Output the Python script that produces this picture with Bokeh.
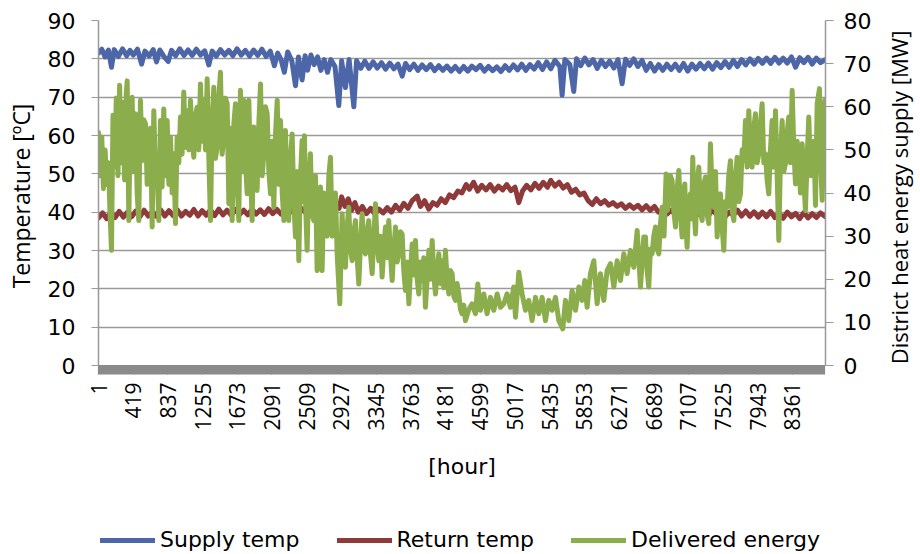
import math
from bokeh.plotting import figure
from bokeh.layouts import row, column
from bokeh.models import (Range1d, LinearAxis, FixedTicker, SingleIntervalTicker,
                          Legend, LegendItem, Grid, Label)
from bokeh.embed import file_html
from bokeh.resources import INLINE

# ---------------- data ----------------
tick_hours = [1, 419, 837, 1255, 1673, 2091, 2509, 2927, 3345, 3763, 4181,
              4599, 5017, 5435, 5853, 6271, 6689, 7107, 7525, 7943, 8361]

supply_hours = [1, 40, 80, 120, 157, 190, 240, 290, 340, 380, 420, 470, 520, 560, 610, 660,
                700, 740, 790, 840, 880, 930, 980, 1030, 1080, 1130, 1180, 1230, 1280, 1330,
                1370, 1420, 1470, 1520, 1570, 1620, 1670, 1720, 1770, 1820, 1870, 1920, 1970,
                2020, 2070, 2120, 2160, 2200, 2240, 2280, 2330, 2374, 2410, 2454, 2490, 2520,
                2560, 2600, 2640, 2680, 2720, 2760, 2800, 2850, 2896, 2930, 2976, 3020, 3077,
                3110, 3160, 3210, 3260, 3310, 3360, 3410, 3460, 3510, 3560, 3610, 3660, 3700,
                3750, 3800, 3850, 3900, 3950, 4000, 4050, 4100, 4150, 4200, 4250, 4300, 4350,
                4400, 4450, 4500, 4550, 4600, 4650, 4700, 4750, 4800, 4850, 4900, 4950, 5000,
                5050, 5100, 5150, 5200, 5250, 5300, 5350, 5400, 5450, 5500, 5560, 5587, 5620,
                5680, 5727, 5760, 5810, 5860, 5910, 5960, 6010, 6060, 6110, 6160, 6210, 6260,
                6310, 6350, 6400, 6450, 6500, 6550, 6600, 6650, 6700, 6750, 6800, 6850, 6900,
                6950, 7000, 7050, 7100, 7150, 7200, 7250, 7300, 7350, 7400, 7450, 7500, 7550,
                7600, 7650, 7700, 7750, 7800, 7850, 7900, 7950, 8000, 8050, 8100, 8150, 8200,
                8250, 8300, 8350, 8400, 8450, 8500, 8550, 8600, 8650, 8700, 8760]
supply_temp = [81.5, 82.5, 80.5, 82.3, 77.8, 82.4, 80.6, 82.6, 80.8, 82.2, 81.0, 82.5, 78.6, 82.0,
               80.7, 82.4, 79.2, 82.3, 80.6, 79.3, 82.2, 80.8, 82.6, 80.9, 82.3, 80.9, 82.5, 81.0,
               82.1, 78.4, 82.0, 80.7, 82.4, 81.0, 82.2, 80.8, 82.6, 81.0, 82.2, 80.7, 82.3, 80.9,
               82.5, 80.6, 82.0, 78.2, 81.5, 79.8, 76.5, 81.8, 79.5, 73.0, 80.5, 74.5, 80.8, 77.0,
               81.0, 78.5, 80.5, 77.0, 79.8, 76.5, 79.8, 78.0, 67.8, 79.5, 72.5, 79.8, 67.5, 79.5,
               77.5, 79.4, 77.5, 79.2, 77.6, 79.0, 77.3, 78.9, 77.4, 78.6, 75.5, 78.8, 77.2, 78.6,
               77.0, 78.4, 77.2, 78.5, 76.9, 78.2, 77.0, 78.1, 76.8, 78.0, 76.7, 78.0, 76.8, 78.1,
               77.2, 78.3, 76.8, 78.0, 76.9, 77.9, 76.7, 78.2, 77.0, 78.4, 77.1, 78.6, 77.0, 78.5,
               77.3, 79.0, 77.2, 79.2, 77.4, 79.6, 78.0, 70.5, 79.8, 78.5, 71.5, 80.0, 78.2, 80.2,
               78.4, 79.8, 77.5, 79.6, 78.0, 79.4, 77.6, 79.8, 73.5, 79.9, 78.3, 80.0, 78.0, 79.6,
               77.0, 78.8, 76.8, 78.5, 77.0, 78.6, 77.2, 78.6, 77.0, 78.8, 76.8, 78.6, 77.3, 78.8,
               77.4, 78.9, 77.3, 79.0, 77.7, 79.3, 77.8, 79.6, 78.0, 79.8, 78.4, 80.0, 78.6, 80.1,
               78.8, 80.2, 78.8, 80.4, 78.9, 80.2, 78.9, 80.5, 77.8, 80.3, 79.0, 80.4, 78.6, 80.2,
               79.0, 79.8]

return_hours = [1, 50, 100, 150, 200, 250, 300, 350, 400, 450, 500, 550, 600, 650, 700, 750, 800,
                850, 900, 950, 1000, 1050, 1100, 1150, 1200, 1250, 1300, 1350, 1400, 1450, 1500,
                1550, 1600, 1650, 1700, 1750, 1800, 1850, 1900, 1950, 2000, 2050, 2100, 2150,
                2200, 2250, 2300, 2350, 2400, 2450, 2500, 2550, 2600, 2650, 2700, 2750, 2800,
                2850, 2900, 2930, 2970, 3010, 3050, 3090, 3130, 3180, 3230, 3280, 3330, 3380,
                3430, 3480, 3530, 3580, 3630, 3680, 3730, 3780, 3840, 3880, 3930, 3980, 4030,
                4080, 4130, 4180, 4230, 4280, 4330, 4380, 4430, 4470, 4520, 4570, 4620, 4670,
                4720, 4770, 4820, 4870, 4920, 4970, 5020, 5065, 5110, 5160, 5210, 5260, 5310,
                5360, 5410, 5450, 5500, 5550, 5600, 5650, 5700, 5750, 5800, 5850, 5900, 5950,
                6000, 6050, 6100, 6150, 6200, 6250, 6300, 6350, 6400, 6450, 6500, 6550, 6600,
                6650, 6700, 6750, 6800, 6850, 6900, 6950, 7000, 7050, 7100, 7150, 7200, 7250,
                7300, 7350, 7400, 7450, 7500, 7550, 7600, 7650, 7700, 7750, 7800, 7850, 7900,
                7950, 8000, 8050, 8100, 8150, 8200, 8250, 8300, 8350, 8400, 8450, 8500, 8550,
                8600, 8650, 8700, 8760]
return_temp = [38.5, 39.8, 38.3, 40.0, 38.6, 40.2, 38.7, 40.0, 38.8, 40.3, 38.8, 40.5, 39.0, 40.2,
               38.9, 40.6, 39.0, 40.4, 39.1, 40.6, 39.0, 40.2, 39.2, 40.7, 39.0, 40.4, 39.2, 40.6,
               39.1, 40.8, 39.3, 40.5, 39.2, 40.7, 39.4, 40.5, 39.3, 40.8, 39.5, 40.6, 39.4, 40.9,
               39.6, 40.7, 39.5, 40.8, 39.8, 41.0, 39.6, 40.9, 39.8, 41.2, 39.7, 41.0, 40.0, 41.3,
               40.2, 42.0, 41.0, 44.0, 41.5, 43.5, 40.5, 42.5, 40.0, 41.5, 39.6, 41.0, 39.5, 40.8,
               39.8, 41.2, 40.0, 41.8, 40.5, 42.3, 41.0, 43.0, 44.2, 41.5, 43.0, 40.8, 42.5, 41.8,
               43.5, 42.5, 44.5, 43.8, 45.5, 45.0, 47.2, 46.0, 47.8, 45.5, 47.0, 45.8, 47.2, 45.5,
               46.8, 45.8, 47.2, 45.6, 46.5, 42.5, 45.5, 47.0, 45.8, 47.5, 46.2, 47.8, 46.5, 48.3,
               46.8, 47.8, 46.3, 47.2, 45.2, 46.0, 44.5, 45.0, 43.0, 42.0, 43.5, 42.2, 43.0, 41.8,
               42.5, 41.5, 42.2, 41.0, 41.9, 41.0, 41.8, 40.6, 41.7, 40.5, 41.5, 40.0, 40.6, 39.5,
               40.5, 39.4, 40.6, 39.3, 40.4, 39.4, 40.5, 39.2, 40.3, 39.1, 40.6, 39.3, 40.2, 38.8,
               40.0, 39.2, 40.5, 39.0, 40.3, 38.9, 40.1, 38.7, 40.0, 38.8, 40.2, 38.6, 39.8, 38.4,
               40.0, 38.8, 39.7, 38.3, 39.9, 38.5, 39.6, 38.6, 39.8, 38.8]

energy_hours = [
    1, 20, 40, 60, 80, 100, 120, 140, 157, 175, 195, 215, 235, 255, 275, 295, 315, 335, 346,
    366, 385, 406, 426, 446, 466, 486, 506, 526, 546, 567, 587, 607, 627, 647, 667, 687, 707,
    727, 747, 767, 787, 808, 828, 848, 868, 888, 908, 928, 948, 968, 988, 1008, 1028, 1049,
    1069, 1089, 1109, 1129, 1149, 1169, 1189, 1209, 1229, 1250, 1270, 1290, 1310, 1330, 1350,
    1370, 1390, 1410, 1430, 1450, 1470, 1490, 1511, 1531, 1551, 1571, 1591, 1611, 1631, 1651,
    1671, 1691, 1711, 1731, 1752, 1772, 1792, 1812, 1832, 1852, 1872, 1892, 1912, 1932, 1953,
    1973, 1993, 2013, 2033, 2053, 2073, 2093, 2113, 2134, 2154, 2174, 2194, 2214, 2234, 2253,
    2273, 2293, 2313, 2334, 2354, 2374, 2394, 2414, 2434, 2454, 2468, 2482, 2498, 2514, 2534,
    2554, 2574, 2595, 2615, 2635, 2655, 2675, 2695, 2715, 2735, 2755, 2776, 2796, 2816, 2836,
    2856, 2876, 2908, 2936, 2956, 2976, 2996, 3016, 3036, 3057, 3077, 3097, 3117, 3137, 3157,
    3177, 3197, 3217, 3237, 3257, 3277, 3298, 3318, 3338, 3358, 3378, 3398, 3418, 3438, 3458,
    3478, 3498, 3518, 3539, 3559, 3579, 3599, 3619, 3639, 3659, 3679, 3699, 3720, 3740, 3760,
    3780, 3800, 3820, 3840, 3860, 3880, 3900, 3920, 3940, 3960, 3981, 4001, 4021, 4041, 4061,
    4081, 4101, 4121, 4141, 4161, 4181, 4201, 4222, 4242, 4262, 4282, 4302, 4322, 4342, 4362,
    4382, 4402, 4422, 4462, 4502, 4543, 4571, 4603, 4643, 4683, 4723, 4764, 4804, 4844, 4884,
    4924, 4964, 5004, 5025, 5065, 5105, 5145, 5185, 5225, 5266, 5306, 5346, 5386, 5426, 5466,
    5507, 5547, 5595, 5627, 5667, 5707, 5748, 5788, 5828, 5860, 5888, 5928, 5969, 6009, 6049,
    6089, 6129, 6170, 6210, 6250, 6290, 6330, 6370, 6410, 6451, 6491, 6531, 6571, 6591, 6611,
    6631, 6651, 6671, 6691, 6712, 6732, 6752, 6772, 6792, 6815, 6840, 6856, 6872, 6892, 6912,
    6932, 6953, 6973, 6993, 7013, 7033, 7049, 7065, 7080, 7093, 7113, 7133, 7148, 7161, 7178,
    7194, 7214, 7234, 7254, 7274, 7294, 7314, 7334, 7354, 7374, 7395, 7415, 7435, 7455, 7475,
    7495, 7515, 7535, 7555, 7575, 7595, 7615, 7635, 7656, 7676, 7696, 7716, 7736, 7756, 7776,
    7796, 7816, 7836, 7856, 7876, 7896, 7917, 7937, 7957, 7977, 7997, 8017, 8037, 8057, 8077,
    8097, 8117, 8138, 8158, 8178, 8198, 8218, 8238, 8258, 8278, 8298, 8318, 8338, 8359, 8379,
    8399, 8419, 8439, 8459, 8479, 8499, 8519, 8539, 8559, 8580, 8600, 8620, 8640, 8660, 8688,
    8704, 8720, 8736, 8752]
energy_mw = [
    54.0, 44.0, 53.0, 41.0, 50.0, 42.0, 47.0, 35.0, 26.7, 58.0, 46.0, 62.0, 44.0, 65.0, 47.0,
    61.0, 43.0, 63.0, 66.0, 33.6, 60.0, 62.2, 45.0, 58.4, 40.0, 33.6, 61.5, 47.5, 57.0, 56.0,
    42.0, 45.2, 55.0, 32.1, 59.1, 44.0, 45.2, 33.6, 56.8, 41.4, 59.5, 44.0, 56.8, 42.0, 53.0,
    40.0, 49.1, 32.9, 53.0, 47.0, 57.6, 49.0, 63.4, 50.6, 59.1, 50.0, 61.5, 52.0, 48.3, 58.0,
    59.9, 50.0, 65.3, 52.0, 61.5, 50.0, 66.5, 48.0, 33.6, 56.0, 64.5, 48.0, 50.6, 62.0, 68.0,
    49.0, 53.0, 62.0, 60.7, 37.5, 55.0, 33.6, 56.0, 60.7, 42.0, 33.6, 63.8, 45.0, 61.5, 47.0,
    39.8, 61.5, 45.0, 33.6, 55.3, 46.0, 40.6, 56.0, 65.3, 44.0, 49.1, 60.0, 58.4, 45.0, 39.8,
    52.0, 36.7, 54.0, 61.5, 42.0, 56.8, 40.0, 33.6, 54.5, 40.0, 33.6, 48.0, 53.7, 38.0, 29.8,
    45.0, 24.3, 44.0, 52.2, 38.0, 53.3, 36.0, 26.7, 42.0, 49.1, 35.0, 33.6, 44.0, 22.0, 38.0,
    41.4, 22.0, 40.0, 36.7, 30.0, 44.0, 48.3, 30.0, 33.6, 40.0, 25.9, 14.3, 35.2, 26.0, 22.8,
    32.0, 36.7, 27.0, 24.3, 31.0, 33.6, 25.0, 18.9, 28.0, 35.2, 27.0, 25.9, 31.0, 33.6, 26.0,
    21.3, 30.0, 37.5, 28.0, 24.3, 30.0, 20.5, 27.0, 32.1, 25.0, 33.6, 26.0, 19.7, 27.0, 32.1,
    24.0, 25.9, 31.0, 30.5, 22.0, 17.4, 24.0, 14.3, 22.0, 28.2, 21.0, 29.0, 20.0, 16.6, 24.0,
    19.7, 25.0, 13.5, 20.0, 26.7, 20.0, 29.0, 21.0, 16.6, 22.0, 25.9, 19.0, 24.3, 18.0, 26.7,
    20.0, 16.6, 22.0, 21.3, 16.0, 15.1, 19.0, 16.6, 13.0, 12.0, 14.0, 10.4, 13.0, 14.3, 12.0,
    18.9, 12.8, 16.6, 12.0, 15.8, 12.8, 16.6, 13.5, 14.3, 16.6, 13.5, 18.2, 11.2, 21.6, 16.6,
    12.8, 15.1, 10.4, 15.8, 12.0, 15.8, 10.4, 15.1, 12.8, 15.8, 10.4, 8.5, 15.1, 10.4, 17.4,
    12.8, 18.2, 15.1, 19.7, 13.5, 21.3, 24.3, 14.3, 21.3, 15.1, 22.0, 23.6, 18.2, 24.3, 19.7,
    25.9, 21.3, 26.7, 22.8, 31.3, 18.2, 29.8, 29.8, 22.0, 18.2, 27.0, 25.9, 30.0, 32.1, 27.0,
    25.9, 33.0, 36.7, 30.0, 44.4, 36.0, 37.5, 44.0, 42.9, 36.0, 32.1, 41.0, 45.2, 35.0, 29.8,
    40.0, 42.1, 32.0, 27.4, 38.0, 39.8, 34.0, 48.3, 36.0, 30.5, 42.0, 46.0, 36.0, 33.6, 42.0,
    43.7, 35.0, 32.9, 51.4, 40.0, 36.7, 45.0, 29.8, 38.0, 39.8, 32.0, 26.7, 38.0, 36.7, 44.0,
    47.5, 36.0, 33.6, 44.0, 48.3, 38.0, 39.8, 50.0, 47.5, 56.8, 46.0, 59.1, 50.0, 46.0, 55.0,
    58.4, 47.0, 49.1, 56.0, 60.7, 47.0, 49.1, 43.0, 39.8, 50.0, 56.8, 46.0, 59.1, 44.0, 29.0,
    48.0, 56.8, 45.0, 46.8, 54.0, 57.6, 47.0, 63.8, 50.0, 42.1, 52.0, 47.5, 40.0, 51.4, 43.0,
    35.9, 48.0, 57.6, 44.0, 46.0, 52.0, 37.1, 60.7, 64.2, 46.0, 38.3, 50.0, 61.5]

series_names = ["Supply temp", "Return temp", "Delivered energy"]
right_title = "District heat energy supply [MW]"

# ---------------- styling ----------------
BLUE = "#4D66A8"
RED = "#8E3A3A"
GREEN = "#8CAD4B"
GRID = "#9a9a9a"
AX = "#999999"
BAND = "#8a8a8a"
HFONT = "DejaVu Sans"
VFONT = "Open Sans"

MAIN_W, MAIN_H = 876, 504
LEG_H = 554 - MAIN_H
SIDE_W = 920 - MAIN_W

p = figure(width=MAIN_W, height=MAIN_H, output_backend="svg", toolbar_location=None,
           x_range=Range1d(0.5, 8760.5), y_range=Range1d(0, 90),
           min_border_left=98, min_border_right=MAIN_W - 825, min_border_top=20,
           min_border_bottom=MAIN_H - 365, x_axis_type=None, y_axis_type=None)
p.outline_line_color = None
p.background_fill_color = "white"
p.extra_y_ranges = {"mw": Range1d(0, 80)}

# x axis
xax = LinearAxis(ticker=FixedTicker(ticks=tick_hours,
                                    minor_ticks=list(range(1, 8761, 8))))
xax.axis_label = "[hour]"
xax.axis_label_text_font = HFONT
xax.axis_label_text_font_size = "22px"
xax.axis_label_text_font_style = "normal"
xax.axis_label_text_color = "black"
xax.axis_label_standoff = 20
xax.major_label_orientation = math.pi / 2
xax.major_label_text_font = VFONT
xax.major_label_text_font_size = "21px"
xax.major_label_text_color = "black"
xax.major_label_standoff = 8
xax.major_tick_in = 0
xax.major_tick_out = 9
xax.major_tick_line_color = BAND
xax.minor_tick_in = 0
xax.minor_tick_out = 9
xax.minor_tick_line_color = BAND
xax.minor_tick_line_width = 1.2
xax.axis_line_color = BAND
p.add_layout(xax, "below")

# left axis
lax = LinearAxis(ticker=SingleIntervalTicker(interval=10, num_minor_ticks=0))
lax.axis_label = "Temperature  [ºC]"
lax.axis_label_text_font = VFONT
lax.axis_label_text_font_size = "23px"
lax.axis_label_text_font_style = "normal"
lax.axis_label_text_color = "black"
lax.axis_label_standoff = 8
lax.major_label_text_font = HFONT
lax.major_label_text_font_size = "22px"
lax.major_label_text_color = "black"
lax.major_label_standoff = 16
lax.major_tick_in = 0
lax.major_tick_out = 7
lax.major_tick_line_color = AX
lax.minor_tick_line_color = None
lax.axis_line_color = AX
lax.axis_line_width = 1.5
p.add_layout(lax, "left")

# right axis
rax = LinearAxis(y_range_name="mw", ticker=SingleIntervalTicker(interval=10, num_minor_ticks=0))
rax.major_label_text_font = HFONT
rax.major_label_text_font_size = "22px"
rax.major_label_text_color = "black"
rax.major_label_standoff = 10
rax.major_tick_in = 0
rax.major_tick_out = 8
rax.major_tick_line_color = AX
rax.minor_tick_line_color = None
rax.axis_line_color = AX
rax.axis_line_width = 1.5
p.add_layout(rax, "right")

p.ygrid.grid_line_color = None
p.xgrid.grid_line_color = None
g = Grid(dimension=1, ticker=lax.ticker, grid_line_color=GRID, grid_line_width=1.5)
p.add_layout(g)

line_style = dict(line_width=5, line_join="round", line_cap="round")
p.line(supply_hours, supply_temp, line_color=BLUE, **line_style)
p.line(return_hours, return_temp, line_color=RED, **line_style)
p.line(energy_hours, energy_mw, y_range_name="mw", line_color=GREEN, **line_style)

# ---- legend strip below the chart (its frame is aligned with the chart frame) ----
lg = figure(width=MAIN_W, height=LEG_H, output_backend="svg", toolbar_location=None,
            x_range=Range1d(-2, -1), y_range=Range1d(-2, -1), x_axis_type=None,
            y_axis_type=None, min_border=0, min_border_left=0, min_border_right=0,
            min_border_top=0, min_border_bottom=0)
lg.outline_line_color = None
lg.xgrid.grid_line_color = None
lg.ygrid.grid_line_color = None
# same series drawn again, outside this strip's visible ranges: only their legend swatches show
l1 = lg.line(supply_hours, supply_temp, line_color=BLUE, **line_style)
l2 = lg.line(return_hours, return_temp, line_color=RED, **line_style)
l3 = lg.line(energy_hours, energy_mw, line_color=GREEN, **line_style)
legend = Legend(items=[LegendItem(label=series_names[0], renderers=[l1]),
                       LegendItem(label=series_names[1], renderers=[l2]),
                       LegendItem(label=series_names[2], renderers=[l3])],
                orientation="horizontal", location=(2, 2))
legend.label_text_font = HFONT
legend.label_text_font_size = "22px"
legend.label_text_color = "black"
legend.glyph_width = 55
legend.glyph_height = 20
legend.label_standoff = 5
legend.spacing = 37
legend.padding = 2
legend.margin = 0
legend.border_line_color = None
legend.background_fill_alpha = 0
lg.add_layout(legend, "center")

# ---- narrow strip on the right carrying the right axis title ----
side = figure(width=SIDE_W, height=554, output_backend="svg", toolbar_location=None,
              x_range=Range1d(0, 1), y_range=Range1d(0, 1), x_axis_type=None, y_axis_type=None,
              min_border=0, min_border_left=0, min_border_right=0, min_border_top=0,
              min_border_bottom=0)
side.outline_line_color = None
side.xgrid.grid_line_color = None
side.ygrid.grid_line_color = None
side.add_layout(Label(x=898 - MAIN_W, y=554 - 197, x_units="screen", y_units="screen",
                      text=right_title, angle=math.pi / 2,
                      text_align="center", text_baseline="middle",
                      text_font=VFONT, text_font_size="22px", text_color="black"))

layout = row(column(p, lg, spacing=0), side, spacing=0)
open("out.html", "w").write(file_html(layout, INLINE))
